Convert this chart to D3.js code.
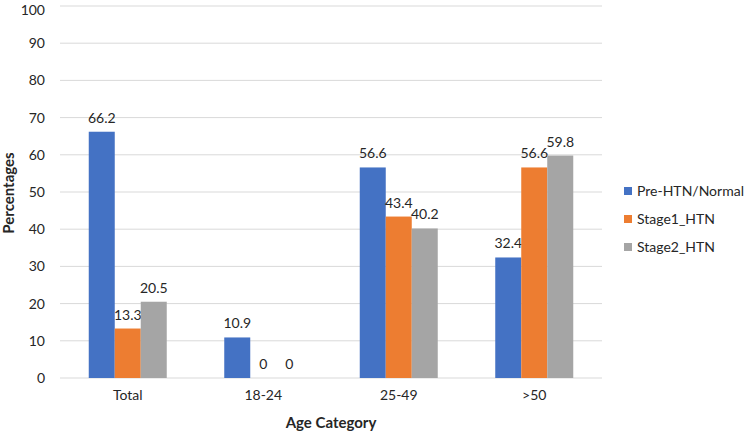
<!DOCTYPE html>
<html><head><meta charset="utf-8">
<script src="https://cdn.jsdelivr.net/npm/d3@7/dist/d3.min.js"></script>
<style>body{margin:0;background:#fff}</style>
</head><body><svg id="c" width="749" height="435"></svg>
<script>
const categories = ["Total", "18-24", "25-49", ">50"];
const seriesNames = ["Pre-HTN/Normal", "Stage1_HTN", "Stage2_HTN"];
const preHTN = [66.2, 10.9, 56.6, 32.4];
const stage1 = [13.3, 0, 43.4, 56.6];
const stage2 = [20.5, 0, 40.2, 59.8];
const yTicks = [0,10,20,30,40,50,60,70,80,90,100];
const colors = ["#4472C4", "#ED7D31", "#A5A5A5"];
const seriesValues = [preHTN, stage1, stage2];

const svg = d3.select("#c");
const font = "Lato, 'Open Sans', sans-serif";
const textCol = "#262626";
const fs = 14;
const mLeft = 60, mRight = 602, mTop = 6, mBottom = 378;

const x = d3.scaleBand().domain(categories).range([mLeft, mRight]).paddingInner(0).paddingOuter(0);
const x1 = d3.scaleBand().domain(seriesNames).range([0, 78]);
const y = d3.scaleLinear().domain([0, 100]).range([mBottom, mTop]);

// gridlines
svg.append("g").selectAll("line").data(yTicks).join("line")
  .attr("x1", mLeft).attr("x2", mRight)
  .attr("y1", d => y(d)).attr("y2", d => y(d))
  .attr("stroke", "#d9d9d9").attr("stroke-width", 1);

// y axis labels
const yAxis = d3.axisLeft(y).tickValues(yTicks).tickSize(0).tickPadding(0);
const ya = svg.append("g").attr("transform", `translate(${mLeft - 15},0)`).call(yAxis);
ya.select(".domain").remove();
ya.selectAll("text").attr("font-family", font).attr("font-size", fs).attr("fill", textCol)
  .attr("dy", d => d === 100 ? "0.6em" : "0.32em");

// x axis labels
const xAxis = d3.axisBottom(x).tickSize(0).tickPadding(0);
const xa = svg.append("g").attr("transform", `translate(0,${mBottom + 12})`).call(xAxis);
xa.select(".domain").remove();
xa.selectAll("text").attr("font-family", font).attr("font-size", fs).attr("fill", textCol);

// bars
const groups = svg.append("g").selectAll("g").data(categories).join("g")
  .attr("transform", c => `translate(${x(c) + x.bandwidth()/2 - 39},0)`);
groups.each(function(c, ci) {
  const g = d3.select(this);
  seriesNames.forEach((s, si) => {
    const v = seriesValues[si][ci];
    g.append("rect").attr("x", x1(s)).attr("width", x1.bandwidth())
      .attr("y", y(v)).attr("height", y(0) - y(v)).attr("fill", colors[si]);
    g.append("text").attr("x", x1(s) + x1.bandwidth()/2).attr("y", y(v) - 9)
      .attr("text-anchor", "middle").attr("font-family", font).attr("font-size", fs)
      .attr("fill", textCol).text(v);
  });
});

// axis titles
svg.append("text").attr("transform", `translate(14,${(mTop+mBottom)/2 + 1}) rotate(-90)`)
  .attr("text-anchor", "middle").attr("font-family", font).attr("font-size", 15)
  .attr("font-weight", "bold").attr("fill", textCol).text("Percentages");
svg.append("text").attr("x", 331).attr("y", 428)
  .attr("text-anchor", "middle").attr("font-family", font).attr("font-size", 15)
  .attr("font-weight", "bold").attr("fill", textCol).text("Age Category");

// legend
const lg = svg.append("g").selectAll("g").data(seriesNames).join("g")
  .attr("transform", (d, i) => `translate(624,${191 + i * 28})`);
lg.append("rect").attr("x", 0).attr("y", -4).attr("width", 8).attr("height", 8)
  .attr("fill", (d, i) => colors[i]);
lg.append("text").attr("x", 13).attr("y", 0).attr("dy", "0.35em")
  .attr("font-family", font).attr("font-size", fs).attr("fill", textCol).text(d => d);
</script></body></html>
